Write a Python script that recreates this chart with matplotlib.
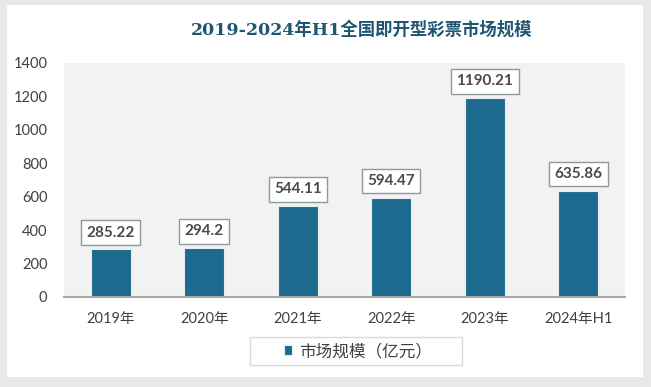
import matplotlib
matplotlib.use("Agg")
import matplotlib.pyplot as plt
from matplotlib.patches import Rectangle

categories = ["2019年", "2020年", "2021年", "2022年", "2023年", "2024年H1"]
values = [285.22, 294.2, 544.11, 594.47, 1190.21, 635.86]
value_labels = ["285.22", "294.2", "544.11", "594.47", "1190.21", "635.86"]
yticks = [0, 200, 400, 600, 800, 1000, 1200, 1400]
title = "2019-2024年H1全国即开型彩票市场规模"
legend_label = "市场规模（亿元）"

plt.rcParams['font.family'] = ['Lato', 'Noto Sans CJK SC', 'DejaVu Sans']

W, H = 651, 387
fig = plt.figure(figsize=(W / 100, H / 100), dpi=100)
fig.patch.set_facecolor('#e9e9e9')
# inner white panel
fig.patches.append(Rectangle((7 / W, 10 / H), (643 - 7) / W, (382 - 10) / H,
                             transform=fig.transFigure, facecolor='white',
                             edgecolor='none', zorder=-10))

ax = fig.add_axes([64 / W, (H - 297) / H, (625 - 64) / W, (297 - 63) / H])
ax.set_zorder(2)
ax.set_facecolor('#f2f2f2')
bar_color = '#1d6a8e'
x = list(range(len(categories)))
bars = ax.bar(x, values, width=0.43, color=bar_color, edgecolor='#e6eef2',
              linewidth=0.8, label=legend_label, zorder=3)
ax.set_xlim(-0.5, len(categories) - 0.5)
ax.set_ylim(0, 1400)
ax.set_yticks(yticks)
ax.set_yticklabels([str(t) for t in yticks])
ax.set_xticks(x)
ax.set_xticklabels(categories)
ax.tick_params(axis='y', length=0, pad=12, labelsize=10.5, labelcolor='#404040')
ax.tick_params(axis='x', length=0, pad=11, labelsize=10.5, labelcolor='#404040')
for s in ['top', 'right', 'left']:
    ax.spines[s].set_visible(False)
ax.spines['bottom'].set_color('#a6a6a6')
ax.spines['bottom'].set_linewidth(1.5)
ax.spines['bottom'].set_zorder(4)

for xi, v, lab in zip(x, values, value_labels):
    ax.annotate(lab, xy=(xi, v), xytext=(0, 12), textcoords='offset points',
                ha='center', va='center', fontsize=11, fontweight='bold',
                color='#4a4a4a', zorder=5,
                bbox=dict(boxstyle='square,pad=0.35', facecolor='white',
                          edgecolor='#8a9aa3', linewidth=1.0))

fig.text(362 / W, 1 - 30 / H, title, ha='center', va='center', fontsize=12.5,
         fontweight='bold', color='#1f5672', zorder=3,
         family=['DejaVu Serif', 'Noto Sans CJK SC'])

# legend box
fig.patches.append(Rectangle((250 / W, (H - 365) / H), (462 - 250) / W, (365 - 337) / H,
                             transform=fig.transFigure, facecolor='white',
                             edgecolor='#d9d9d9', linewidth=1.0, zorder=-5))
leg = fig.legend(handles=[bars], labels=[legend_label], loc='center',
                 bbox_to_anchor=(358 / W, 1 - 351 / H), frameon=False,
                 fontsize=12, handlelength=0.5, handleheight=0.5,
                 handletextpad=0.4)
leg.set_zorder(5)
for t in leg.get_texts():
    t.set_color('#404040')

fig.savefig('out.png', dpi=100, facecolor=fig.get_facecolor())
